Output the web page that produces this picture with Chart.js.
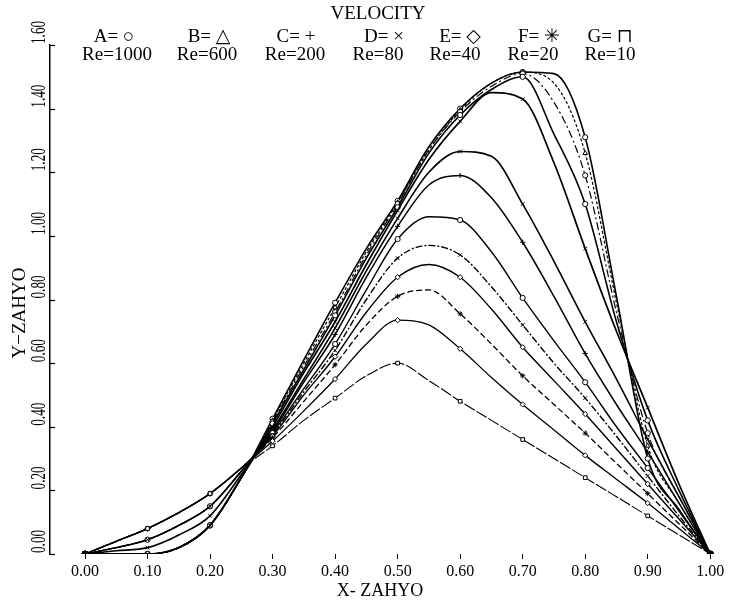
<!DOCTYPE html>
<html lang="en">
<head>
  <meta charset="UTF-8" />
  <title>VELOCITY</title>
  <style>
    body { margin: 0; background: #fff; }
    canvas { display: block; }
  </style>
</head>
<body>
  <canvas id="velChart" width="734" height="600"></canvas>

  <script src="https://cdn.jsdelivr.net/npm/chart.js"></script>
  <script>
    // X-ZAHYO stations (read every 0.05, markers drawn every 0.10)
    const xValues = [0.00, 0.05, 0.10, 0.15, 0.20, 0.25, 0.30, 0.35, 0.40, 0.45, 0.50,
                     0.55, 0.60, 0.65, 0.70, 0.75, 0.80, 0.85, 0.90, 0.95, 1.00];

    // velocity profiles, lowest peak first
    const curve1  = [0, 0.04, 0.08, 0.13, 0.19, 0.27, 0.34, 0.42, 0.49, 0.56, 0.60, 0.545, 0.48, 0.42, 0.36, 0.30, 0.24, 0.18, 0.12, 0.06, 0];
    const curve2  = [0, 0.04, 0.08, 0.13, 0.19, 0.27, 0.355, 0.45, 0.55, 0.66, 0.735, 0.72, 0.645, 0.555, 0.47, 0.39, 0.31, 0.235, 0.16, 0.08, 0];
    const curve3  = [0, 0.04, 0.08, 0.13, 0.19, 0.27, 0.365, 0.48, 0.595, 0.72, 0.81, 0.83, 0.755, 0.66, 0.56, 0.47, 0.38, 0.285, 0.19, 0.095, 0];
    const curve4  = [0, 0.04, 0.08, 0.13, 0.19, 0.27, 0.37, 0.50, 0.62, 0.76, 0.87, 0.91, 0.87, 0.77, 0.65, 0.545, 0.44, 0.33, 0.22, 0.11, 0];
    const curve5  = [0, 0.02, 0.045, 0.09, 0.15, 0.26, 0.375, 0.51, 0.64, 0.80, 0.93, 0.97, 0.94, 0.84, 0.72, 0.60, 0.49, 0.37, 0.245, 0.12, 0];
    const curve6  = [0, 0.02, 0.045, 0.09, 0.15, 0.26, 0.38, 0.52, 0.66, 0.83, 0.99, 1.06, 1.05, 0.95, 0.805, 0.67, 0.54, 0.40, 0.27, 0.135, 0];
    const curve7  = [0, 0.02, 0.045, 0.09, 0.15, 0.26, 0.385, 0.54, 0.69, 0.87, 1.03, 1.16, 1.19, 1.12, 0.98, 0.81, 0.63, 0.47, 0.32, 0.16, 0];
    const curve8  = [0, 0.01, 0.02, 0.06, 0.12, 0.25, 0.39, 0.55, 0.71, 0.89, 1.055, 1.20, 1.265, 1.25, 1.10, 0.92, 0.73, 0.55, 0.36, 0.18, 0];
    const curve9  = [0, 0, 0, 0.02, 0.09, 0.24, 0.40, 0.57, 0.73, 0.91, 1.08, 1.24, 1.36, 1.45, 1.43, 1.23, 0.96, 0.70, 0.46, 0.22, 0];
    const curve10 = [0, 0, 0, 0.02, 0.09, 0.24, 0.41, 0.58, 0.75, 0.93, 1.09, 1.26, 1.38, 1.46, 1.50, 1.32, 1.10, 0.73, 0.42, 0.20, 0];
    const curve11 = [0, 0, 0, 0.02, 0.09, 0.24, 0.415, 0.59, 0.76, 0.94, 1.10, 1.27, 1.39, 1.47, 1.51, 1.42, 1.19, 0.76, 0.38, 0.18, 0];
    const curve12 = [0, 0, 0, 0.02, 0.09, 0.24, 0.42, 0.60, 0.775, 0.95, 1.105, 1.27, 1.395, 1.48, 1.515, 1.48, 1.26, 0.79, 0.34, 0.16, 0];
    const curve13 = [0, 0, 0, 0.02, 0.09, 0.24, 0.425, 0.61, 0.79, 0.96, 1.11, 1.28, 1.40, 1.48, 1.515, 1.51, 1.31, 0.81, 0.30, 0.14, 0];

    const xTicks = [0.0, 0.1, 0.2, 0.3, 0.4, 0.5, 0.6, 0.7, 0.8, 0.9, 1.0];
    const yTicks = [0.0, 0.2, 0.4, 0.6, 0.8, 1.0, 1.2, 1.4, 1.6];

    const legendKeys = ['A= \u25CB', 'B= \u25B3', 'C= +', 'D= \u00D7', 'E= \u25C7', 'F= \u2733', 'G= \u2293'];
    const legendRe   = ['Re=1000', 'Re=600', 'Re=200', 'Re=80', 'Re=40', 'Re=20', 'Re=10'];

    const SERIF = '"Liberation Serif", "DejaVu Serif", serif';

    const curves  = [curve1, curve2, curve3, curve4, curve5, curve6, curve7,
                     curve8, curve9, curve10, curve11, curve12, curve13];
    const markers = ['rect', 'rectRot', 'star', 'rectRot', 'crossRot', 'circle', 'cross',
                     'crossRot', 'crossRot', 'circle', 'circle', 'triangle', 'circle'];
    const dashes  = [[12, 2], [], [6, 3], [], [7, 2, 2, 2], [], [], [], [], [], [8, 3, 2, 3], [3, 2], []];
    const widths  = [1.1, 1.3, 1.3, 1.4, 1.4, 1.4, 1.5, 1.6, 1.7, 1.6, 1.2, 1.2, 1.6];

    const datasets = curves.map((c, k) => ({
      data: xValues.map((x, i) => ({ x: x, y: c[i] })),
      borderColor: '#000',
      borderWidth: widths[k],
      borderDash: dashes[k],
      cubicInterpolationMode: 'monotone',
      fill: false,
      pointStyle: markers[k],
      pointRadius: ctx => (ctx.dataIndex % 2 === 0 ? (ctx.dataIndex === 0 || ctx.dataIndex === 20 ? 3 : 2.6) : 0),
      pointBorderWidth: 1,
      pointBorderColor: '#000',
      pointBackgroundColor: ctx => (ctx.dataIndex === 0 || ctx.dataIndex === 20 ? '#000' : '#fff')
    }));

    // texts and inner tick marks that Chart.js does not place this way
    const overlay = {
      id: 'overlay',
      afterDraw(chart) {
        const ctx = chart.ctx;
        const ys = chart.scales.y;
        const left = chart.chartArea.left;
        ctx.save();
        ctx.fillStyle = '#000';
        ctx.strokeStyle = '#000';

        // inner ticks on the Y axis
        ctx.lineWidth = 1.2;
        yTicks.forEach(v => {
          const py = Math.round(ys.getPixelForValue(v)) + 0.5;
          ctx.beginPath();
          ctx.moveTo(left, py);
          ctx.lineTo(left + 5, py);
          ctx.stroke();
        });

        // rotated Y tick labels, starting at the tick and reading upwards
        ctx.font = '20px ' + SERIF;
        ctx.textAlign = 'left';
        ctx.textBaseline = 'middle';
        yTicks.forEach(v => {
          const py = ys.getPixelForValue(v);
          ctx.save();
          ctx.translate(40, py - 1);
          ctx.rotate(-Math.PI / 2);
          ctx.scale(0.66, 1);
          ctx.fillText(v.toFixed(2), 0, 0);
          ctx.restore();
        });

        // Y title
        ctx.save();
        ctx.font = '19px ' + SERIF;
        ctx.textAlign = 'center';
        ctx.translate(20, 313);
        ctx.rotate(-Math.PI / 2);
        ctx.fillText('Y\u2212ZAHYO', 0, 0);
        ctx.restore();

        // X title
        ctx.font = '18px ' + SERIF;
        ctx.textAlign = 'center';
        ctx.fillText('X- ZAHYO', 380, 591);

        // main title
        ctx.font = '19px ' + SERIF;
        ctx.fillText('VELOCITY', 378, 14);

        // legend, two rows
        const keyX = [114, 209, 296, 384, 460, 539, 610];
        const reX  = [117, 207, 295, 378, 455, 533, 610];
        ctx.font = '19px ' + SERIF;
        legendKeys.forEach((t, i) => ctx.fillText(t, keyX[i], 37));
        legendRe.forEach((t, i) => ctx.fillText(t, reX[i], 55));

        ctx.restore();
      }
    };

    new Chart(document.getElementById('velChart').getContext('2d'), {
      type: 'line',
      data: { datasets: datasets },
      plugins: [overlay],
      options: {
        responsive: false,
        animation: false,
        layout: { padding: { top: 45, right: 3, left: 0, bottom: 0 } },
        plugins: {
          legend: { display: false },
          tooltip: { enabled: false }
        },
        scales: {
          x: {
            type: 'linear',
            min: -0.056,
            max: 1.03,
            afterBuildTicks: s => { s.ticks = xTicks.map(v => ({ value: v })); },
            afterFit: s => { s.height = 46; },
            border: { display: false },
            grid: { drawOnChartArea: false, drawTicks: true, tickLength: 5, color: '#000', lineWidth: 1 },
            ticks: {
              color: '#000',
              font: { family: SERIF, size: 16 },
              padding: 3,
              maxRotation: 0,
              autoSkip: false,
              callback: v => Number(v).toFixed(2)
            }
          },
          y: {
            type: 'linear',
            min: 0,
            max: 1.6,
            afterFit: s => { s.width = 50; },
            border: { display: true, color: '#000', width: 1.5 },
            grid: { display: false },
            ticks: { display: false }
          }
        }
      }
    });
  </script>
</body>
</html>
